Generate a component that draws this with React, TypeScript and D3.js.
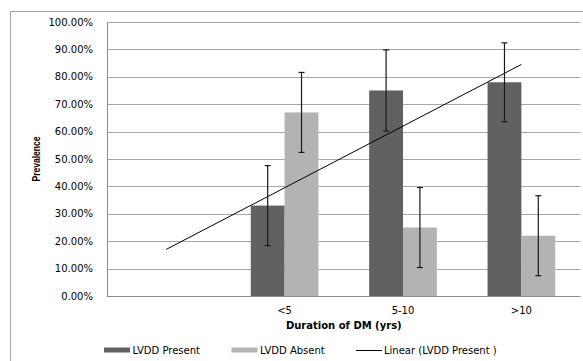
import React, { useEffect, useRef } from 'react';
import * as d3 from 'd3';

// chart data
const categories = ['<5', '5-10', '>10'];
const presentValues = [33, 75, 78];
const absentValues = [67, 25, 22];
const presentErrors = [14.6, 14.8, 14.4];
const absentErrors = [14.6, 14.6, 14.6];
const yTicks = [0, 10, 20, 30, 40, 50, 60, 70, 80, 90, 100];
const seriesNames = ['LVDD Present', 'LVDD Absent', 'Linear (LVDD Present )'];
const forecastBackward = 1;

const DARK = '#616161';
const LIGHT = '#b3b3b3';
const FONT = 'DejaVu Sans, Verdana, sans-serif';

function App() {
  const ref = useRef<SVGSVGElement | null>(null);

  useEffect(() => {
    const width = 583;
    const height = 361;
    const left = 107;
    const right = 580.6;
    const top = 22;
    const bottom = 296;

    const svg = d3.select(ref.current);
    svg.selectAll('*').remove();
    svg.attr('width', width).attr('height', height);

    // outer chart frame (cut by the picture edge)
    svg.append('rect')
      .attr('x', 10.5).attr('y', 11.5)
      .attr('width', 700).attr('height', 500)
      .attr('fill', '#fff').attr('stroke', '#a5a5a5');

    // blank leading slot for the backward forecast of the trendline
    const slots = [''].concat(categories);
    const x = d3.scaleBand().domain(slots).range([left, right]).padding(0);
    const y = d3.scaleLinear().domain([0, 100]).range([bottom, top]);

    const bw = x.bandwidth() / 3.5;
    const groupOff = (x.bandwidth() - 2 * bw) / 2;

    const g = svg.append('g');

    // gridlines
    g.selectAll('line.grid').data(yTicks.filter(t => t > 0)).enter()
      .append('line')
      .attr('class', 'grid')
      .attr('x1', left).attr('x2', right)
      .attr('y1', d => Math.round(y(d)) + 0.5).attr('y2', d => Math.round(y(d)) + 0.5)
      .attr('stroke', '#a8a8a8').attr('stroke-width', 1);

    // y labels
    g.selectAll('text.ytick').data(yTicks).enter()
      .append('text')
      .attr('class', 'ytick')
      .attr('x', 93).attr('y', d => y(d) + 3.6)
      .attr('text-anchor', 'end')
      .style('font-family', FONT).style('font-size', '10px').attr('fill', '#000')
      .text(d => d.toFixed(2) + '%');

    // bars
    const series = [
      { values: presentValues, errors: presentErrors, color: DARK, off: 0 },
      { values: absentValues, errors: absentErrors, color: LIGHT, off: 1 },
    ];
    series.forEach(s => {
      g.selectAll(null).data(categories).enter()
        .append('rect')
        .attr('x', d => (x(d) as number) + groupOff + s.off * bw)
        .attr('y', (d, i) => y(s.values[i]))
        .attr('width', bw)
        .attr('height', (d, i) => bottom - y(s.values[i]))
        .attr('fill', s.color);
    });

    // axes lines
    g.append('line')
      .attr('x1', left + 0.5).attr('x2', left + 0.5)
      .attr('y1', top).attr('y2', bottom + 0.5)
      .attr('stroke', '#8c8c8c');
    g.append('line')
      .attr('x1', left).attr('x2', right)
      .attr('y1', bottom + 0.5).attr('y2', bottom + 0.5)
      .attr('stroke', '#8c8c8c');

    // error bars
    series.forEach(s => {
      categories.forEach((c, i) => {
        const cx = (x(c) as number) + groupOff + s.off * bw + bw / 2;
        const hi = y(s.values[i] + s.errors[i]);
        const lo = y(s.values[i] - s.errors[i]);
        const eb = g.append('g').attr('stroke', '#1a1a1a').attr('stroke-width', 1.2);
        eb.append('line').attr('x1', cx).attr('x2', cx).attr('y1', hi).attr('y2', lo);
        eb.append('line').attr('x1', cx - 3).attr('x2', cx + 3).attr('y1', hi).attr('y2', hi);
        eb.append('line').attr('x1', cx - 3).attr('x2', cx + 3).attr('y1', lo).attr('y2', lo);
      });
    });

    // linear trendline of LVDD Present (least squares on x = 1..n)
    const xs = presentValues.map((v, i) => i + 1);
    const mx = d3.mean(xs) as number;
    const my = d3.mean(presentValues) as number;
    const slope = d3.sum(xs.map((xi, i) => (xi - mx) * (presentValues[i] - my))) /
      d3.sum(xs.map(xi => (xi - mx) * (xi - mx)));
    const icpt = my - slope * mx;
    const x0 = 1 - forecastBackward;
    const x1 = presentValues.length;
    const slotCenter = (k: number) => (x(slots[k]) as number) + x.bandwidth() / 2;
    g.append('line')
      .attr('x1', slotCenter(x0)).attr('y1', y(icpt + slope * x0))
      .attr('x2', slotCenter(x1)).attr('y2', y(icpt + slope * x1))
      .attr('stroke', '#000').attr('stroke-width', 1);

    // category labels
    g.selectAll('text.xtick').data(categories).enter()
      .append('text')
      .attr('class', 'xtick')
      .attr('x', d => (x(d) as number) + x.bandwidth() / 2)
      .attr('y', 313.5)
      .attr('text-anchor', 'middle')
      .style('font-family', FONT).style('font-size', '10px')
      .text(d => d);

    // axis titles
    svg.append('text')
      .attr('x', (left + right) / 2).attr('y', 328.8)
      .attr('text-anchor', 'middle')
      .style('font-family', FONT).style('font-size', '10px').style('font-weight', 'bold')
      .text('Duration of DM (yrs)');

    svg.append('text')
      .attr('transform', 'translate(40,159) rotate(-90)')
      .attr('text-anchor', 'middle')
      .attr('textLength', 45).attr('lengthAdjust', 'spacingAndGlyphs')
      .style('font-family', 'Liberation Sans Narrow, Liberation Sans, sans-serif')
      .style('font-size', '11px').style('font-weight', 'bold')
      .text('Prevalence');

    // legend
    const leg = svg.append('g');
    const ly = 350;
    leg.append('rect').attr('x', 104).attr('y', ly - 2.5).attr('width', 26).attr('height', 5).attr('fill', DARK);
    leg.append('text').attr('x', 132.5).attr('y', ly + 3.6)
      .style('font-family', FONT).style('font-size', '10px').text(seriesNames[0]);
    leg.append('rect').attr('x', 231.5).attr('y', ly - 2.5).attr('width', 26).attr('height', 5).attr('fill', LIGHT);
    leg.append('text').attr('x', 260).attr('y', ly + 3.6)
      .style('font-family', FONT).style('font-size', '10px').text(seriesNames[1]);
    leg.append('line').attr('x1', 356).attr('x2', 382).attr('y1', ly + 0.5).attr('y2', ly + 0.5)
      .attr('stroke', '#000').attr('stroke-width', 1);
    leg.append('text').attr('x', 384).attr('y', ly + 3.6)
      .style('font-family', FONT).style('font-size', '10px').text(seriesNames[2]);
  }, []);

  return (
    <svg ref={ref} style={{ position: 'absolute', left: 0, top: 0, display: 'block', background: '#fff' }} />
  );
}

export default App;
